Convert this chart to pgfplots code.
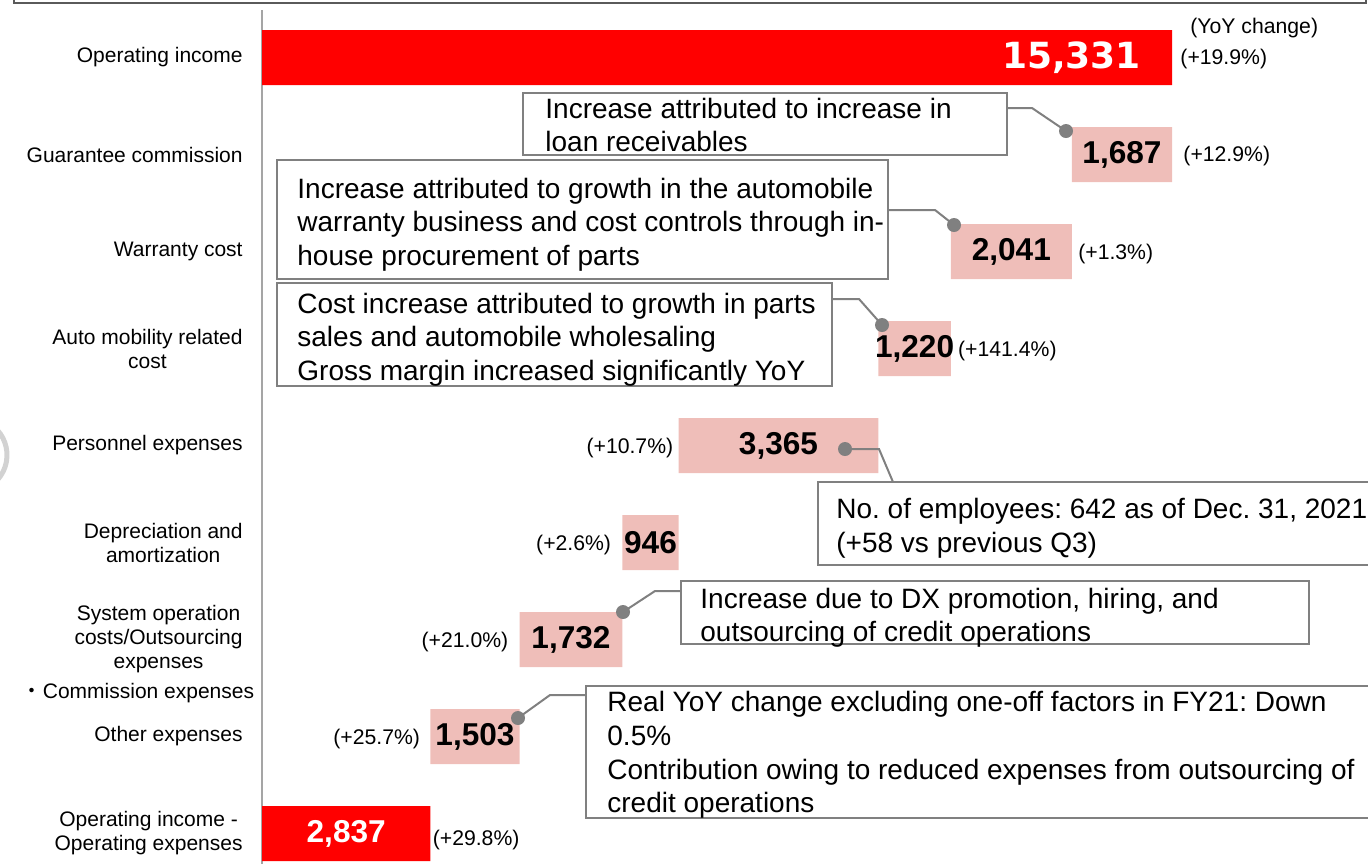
\documentclass[border=0pt]{standalone}
\usepackage{pgfplots}
\usepackage{pgfplotstable}
\pgfplotsset{compat=1.18}
\usepackage{fontspec}
\setmainfont{Liberation Sans}
\newfontfamily\dejavu{DejaVu Sans}
\newfontfamily\cjk{Noto Sans CJK JP}
\frenchspacing
\definecolor{barred}{RGB}{255,0,0}
\definecolor{barpink}{RGB}{239,190,185}
\definecolor{callgray}{RGB}{128,128,128}
\definecolor{axgray}{RGB}{165,165,165}
\newcommand{\catfont}{\fontsize{10.5}{12}\selectfont}
\newcommand{\pctfont}{\fontsize{10.6}{12}\selectfont}
\newcommand{\valfont}{\fontsize{15.8}{18}\selectfont\bfseries}
\newcommand{\boxfont}{\fontsize{14}{16.8}\selectfont}

\pgfplotstableread{
row offset red pink
0 0 15331 0
1 13644 0 1687
2 11603 0 2041
3 10383 0 1220
4 7018 0 3365
5 6072 0 946
6 4340 0 1732
7 2837 0 1503
8 0 2837 0
}\wf

\begin{document}
\begin{tikzpicture}
\useasboundingbox (0,0) rectangle (684pt,-432pt);
\begin{axis}[
  at={(131pt,-5pt)}, anchor=north west,
  scale only axis, width=553pt, height=427pt,
  xbar stacked, bar width=27.5pt,
  xmin=0, xmax=18632,
  ymin=-0.4897, ymax=8.3144, y dir=reverse,
  axis x line=none, axis y line=left,
  y axis line style={-, draw=axgray, line width=0.6pt},
  ytick={0,1,2,3,4,5,6,7,8},
  yticklabels={Operating income, Guarantee commission, Warranty cost, {Auto mobility related\\cost}, Personnel expenses, {Depreciation and\\amortization}, {System operation\\costs/Outsourcing\\expenses}, Other expenses, {Operating income -\\Operating expenses}},
  yticklabel style={font=\catfont, align=center, inner sep=0pt, anchor=east, xshift=-9.5pt},
  major tick length=0pt,
  clip=false,
]
\addplot[draw=none, fill=none] table[x=offset, y=row]{\wf};
\addplot[draw=none, fill=barred] table[x=red, y=row]{\wf};
\addplot[draw=none, fill=barpink] table[x=pink, y=row]{\wf};
% anchor points from the data (bar ends / centres)
\coordinate (e0) at (15331,0);
\coordinate (c1) at (14487.5,1); \coordinate (e1) at (15331,1);
\coordinate (c2) at (12623.5,2); \coordinate (e2) at (13644,2);
\coordinate (c3) at (10993,3);   \coordinate (e3) at (11603,3);
\coordinate (c4) at (8700.5,4);  \coordinate (s4) at (7018,4);
\coordinate (c5) at (6545,5);    \coordinate (s5) at (6072,5);
\coordinate (c6) at (5206,6);    \coordinate (s6) at (4340,6);
\coordinate (c7) at (3588.5,7);  \coordinate (s7) at (2837,7);
\coordinate (c8) at (1418.5,8);  \coordinate (e8) at (2837,8);
\end{axis}

% value labels
\node[anchor=east, text=white, font=\dejavu\fontsize{18}{20}\selectfont\bfseries, xshift=-12pt] at (e0) {15,331};
\node[font=\valfont] at (c1) {1,687};
\node[font=\valfont] at (c2) {2,041};
\node[font=\valfont] at (c3) {1,220};
\node[font=\valfont] at (c4) {3,365};
\node[font=\valfont] at (c5) {946};
\node[font=\valfont] at (c6) {1,732};
\node[font=\valfont] at (c7) {1,503};
\node[font=\valfont, text=white] at (c8) {2,837};

% percentage labels
\node[anchor=west, font=\pctfont, inner sep=0pt, xshift=4pt, yshift=-1pt] at (e0) {(+19.9\%)};
\node[anchor=west, font=\pctfont, inner sep=0pt, xshift=5.5pt, yshift=-1pt] at (e1) {(+12.9\%)};
\node[anchor=west, font=\pctfont, inner sep=0pt, xshift=3pt, yshift=-1pt] at (e2) {(+1.3\%)};
\node[anchor=west, font=\pctfont, inner sep=0pt, xshift=3.5pt, yshift=-1pt] at (e3) {(+141.4\%)};
\node[anchor=east, font=\pctfont, inner sep=0pt, xshift=-2.5pt, yshift=-1pt] at (s4) {(+10.7\%)};
\node[anchor=east, font=\pctfont, inner sep=0pt, xshift=-5.5pt, yshift=-1pt] at (s5) {(+2.6\%)};
\node[anchor=east, font=\pctfont, inner sep=0pt, xshift=-5.5pt, yshift=-1pt] at (s6) {(+21.0\%)};
\node[anchor=east, font=\pctfont, inner sep=0pt, xshift=-5pt, yshift=-1pt] at (s7) {(+25.7\%)};
\node[anchor=west, font=\pctfont, inner sep=0pt, xshift=1pt, yshift=-3pt] at (e8) {(+29.8\%)};

\begin{scope}[x=0.5pt,y=-0.5pt]
% top frame
\draw[draw={rgb,255:red,90;green,90;blue,90}, line width=0.8pt] (14,-2) -- (14,3) -- (1366,3) -- (1366,-2);
% left arc artefact
\draw[gray!35, line width=2.5pt] (-30,455) ++(-50:37) arc[start angle=-50, end angle=50, radius=37];
% extra category line
\node[anchor=base, font=\catfont, inner sep=0pt] at (138,698) {{\cjk ・}Commission expenses};
% YoY header
\node[anchor=base west, font=\pctfont, inner sep=0pt] at (1190,33) {(YoY change)};

\tikzset{cbox/.style={draw=callgray, line width=1.2pt, fill=white},
         cline/.style={draw=callgray, line width=1pt},
         ctext/.style={anchor=base west, font=\boxfont, inner sep=0pt}}
% callout 1
\draw[cline] (1007,108) -- (1032,108) -- (1066,131);
\fill[callgray] (1066,131) circle[radius=7];
\draw[cbox] (523,93) rectangle (1007,155);
\node[ctext] at (545,118) {Increase attributed to increase in};
\node[ctext] at (545,151) {loan receivables};
% callout 2
\draw[cline] (888,210) -- (935,210) -- (954,225);
\fill[callgray] (954,225) circle[radius=7];
\draw[cbox] (277,160) rectangle (888,279);
\node[ctext] at (297,198) {Increase attributed to growth in the automobile};
\node[ctext] at (297,231) {warranty business and cost controls through in-};
\node[ctext] at (297,265) {house procurement of parts};
% callout 3
\draw[cline] (832,299) -- (859,299) -- (882,325);
\fill[callgray] (882,325) circle[radius=7];
\draw[cbox] (277,283) rectangle (832,386);
\node[ctext] at (297,313) {Cost increase attributed to growth in parts};
\node[ctext] at (297,346) {sales and automobile wholesaling};
\node[ctext] at (297,380) {Gross margin increased significantly YoY};
% callout 4
\draw[cline] (845,449) -- (879,449) -- (893,482);
\fill[callgray] (845,449) circle[radius=7];
\draw[cbox] (818,482) rectangle (1375,565);
\node[ctext] at (836,518) {No. of employees: 642 as of Dec. 31, 2021};
\node[ctext] at (836,552) {(+58 vs previous Q3)};
% callout 5
\draw[cline] (623,612) -- (655,591) -- (681,591);
\fill[callgray] (623,612) circle[radius=7];
\draw[cbox] (681,581) rectangle (1309,644);
\node[ctext] at (700,608) {Increase due to DX promotion, hiring, and};
\node[ctext] at (700,641) {outsourcing of credit operations};
% callout 6
\draw[cline] (518,718) -- (550,695) -- (586,695);
\fill[callgray] (518,718) circle[radius=7];
\draw[cbox] (586,686) rectangle (1375,818);
\node[ctext] at (607,711) {Real YoY change excluding one-off factors in FY21: Down};
\node[ctext] at (607,745) {0.5\%};
\node[ctext] at (607,779) {Contribution owing to reduced expenses from outsourcing of};
\node[ctext] at (607,812) {credit operations};
\end{scope}
\end{tikzpicture}
\end{document}
